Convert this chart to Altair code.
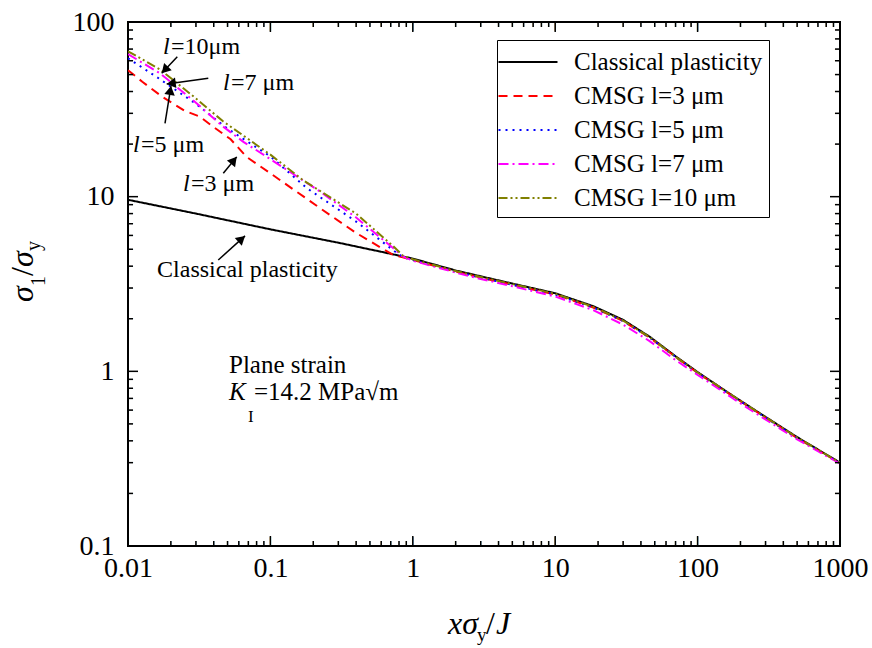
import math
import altair as alt
import pandas as pd

# ---------------- data ----------------
series_names = ["Classical plasticity", "CMSG l=3 μm", "CMSG l=5 μm", "CMSG l=7 μm", "CMSG l=10 μm"]
series_colors = ["#000000", "#ff0000", "#0000ff", "#ff00ff", "#808000"]
series_dashes = [[1, 0], [9, 6], [2, 5], [10, 4, 2, 4], [9, 3, 2, 3, 2, 3]]

x_classical = [0.01, 0.03, 0.1, 0.3, 0.59, 1, 2, 3, 5, 10, 18.5, 30, 46, 70, 100, 170, 274, 500, 1000]
y_classical = [9.6, 8.0, 6.5, 5.45, 4.85, 4.42, 3.78, 3.5, 3.18, 2.8, 2.36, 1.97, 1.58, 1.22, 0.99, 0.74, 0.575, 0.42, 0.30]

x_l3 = [0.01, 0.0126, 0.0174, 0.025, 0.032, 0.04, 0.0526, 0.068, 0.1, 0.223, 0.4, 0.73, 0.85, 1, 2, 3, 5, 10, 18.5, 30, 46, 70, 100, 170, 274, 500, 1000]
y_l3 = [53, 45.5, 37.3, 31, 28.7, 25, 21.3, 16.9, 13.6, 8.6, 6.2, 4.63, 4.5, 4.34, 3.72, 3.44, 3.13, 2.75, 2.32, 1.94, 1.56, 1.21, 0.98, 0.735, 0.57, 0.415, 0.298]

x_l5 = [0.01, 0.0168, 0.03, 0.05, 0.1, 0.18, 0.4, 0.75, 0.85, 1, 2, 3, 5, 10, 18.5, 30, 46, 70, 100, 170, 274, 500, 1000]
y_l5 = [62, 47, 34, 24.5, 17, 11.2, 7.2, 4.85, 4.52, 4.34, 3.72, 3.44, 3.13, 2.75, 2.32, 1.94, 1.56, 1.21, 0.98, 0.735, 0.57, 0.415, 0.298]

x_l7 = [0.01, 0.0168, 0.03, 0.0465, 0.0646, 0.1, 0.223, 0.4, 0.73, 0.85, 1, 2, 3, 5, 10, 18.5, 30, 46, 70, 100, 170, 274, 500, 1000]
y_l7 = [65.5, 50.8, 34.5, 25.2, 20.6, 16.4, 10.7, 7.6, 5.06, 4.55, 4.3, 3.68, 3.38, 3.07, 2.68, 2.24, 1.85, 1.49, 1.16, 0.955, 0.715, 0.555, 0.408, 0.296]

x_l10 = [0.01, 0.0168, 0.03, 0.0465, 0.1, 0.17, 0.4, 0.73, 0.85, 1, 2, 3, 5, 10, 18.5, 30, 46, 70, 100, 170, 274, 500, 1000]
y_l10 = [68, 53.5, 36.5, 27, 17.4, 12.4, 8.0, 5.2, 4.6, 4.38, 3.75, 3.47, 3.16, 2.78, 2.34, 1.95, 1.57, 1.21, 0.985, 0.74, 0.572, 0.418, 0.30]

x_major = [0.01, 0.1, 1, 10, 100, 1000]
y_major = [0.1, 1, 10, 100]

# annotation texts (anchor in data units)
ann_it_text = ["l", "l", "l", "l", "K"]
ann_it_x = [0.0176, 0.0464, 0.01084, 0.0243, 0.0512]
ann_it_y = [71.9, 44.8, 19.8, 11.8, 0.762]
ann_it_size = [24, 24, 24, 24, 25]

ann_up_text = ["=10μm", "=7 μm", "=5 μm", "=3 μm", "Classical plasticity", "Plane strain", "I", "=14.2 MPa√m"]
ann_up_x = [0.02004, 0.05289, 0.01234, 0.02770, 0.016, 0.0512, 0.06963, 0.0767]
ann_up_y = [71.9, 44.8, 19.8, 11.8, 3.80, 1.088, 0.548, 0.762]
ann_up_size = [24, 24, 24, 24, 24, 25, 17, 25]

arrow_tail_x = [0.02219, 0.03664, 0.01819, 0.04669, 0.04305]
arrow_tail_y = [63.3, 47.6, 26.3, 13.6, 4.34]
arrow_head_x = [0.01725, 0.01870, 0.02004, 0.05799, 0.06632]
arrow_head_y = [50.9, 44.2, 43.0, 16.9, 5.96]

W, H = 712, 524
FONT = "Liberation Serif"
MAJOR_LEN, MINOR_LEN = 10, 5
X_LO, X_HI = 0.01, 1000
Y_LO, Y_HI = 0.1, 100

# ---------------- tables ----------------
rows = []
for name, xs, ys in zip(series_names,
                         [x_classical, x_l3, x_l5, x_l7, x_l10],
                         [y_classical, y_l3, y_l5, y_l7, y_l10]):
    for i, (a, b) in enumerate(zip(xs, ys)):
        rows.append({"series": name, "x": a, "y": b, "i": i})
df = pd.DataFrame(rows)

x_minor = [m * 10 ** e for e in range(-2, 3) for m in range(2, 10)]
y_minor = [m * 10 ** e for e in range(-1, 2) for m in range(2, 10)]

px_per_dec_x = W / math.log10(X_HI / X_LO)
px_per_dec_y = H / math.log10(Y_HI / Y_LO)

# inward ticks on all four sides, both ends in data units (lengths given in pixels)
tick_rows = []
for vals, ln in ((x_major, MAJOR_LEN), (x_minor, MINOR_LEN)):
    f = 10 ** (ln / px_per_dec_y)
    for v in vals:
        tick_rows.append({"x1": v, "x2": v, "y1": Y_LO, "y2": Y_LO * f})
        tick_rows.append({"x1": v, "x2": v, "y1": Y_HI, "y2": Y_HI / f})
for vals, ln in ((y_major, MAJOR_LEN), (y_minor, MINOR_LEN)):
    f = 10 ** (ln / px_per_dec_x)
    for v in vals:
        tick_rows.append({"x1": X_LO, "x2": X_LO * f, "y1": v, "y2": v})
        tick_rows.append({"x1": X_HI, "x2": X_HI / f, "y1": v, "y2": v})
tick_df = pd.DataFrame(tick_rows)

# the same ticks drawn as bar glyphs (text marks), rotated to point into the plot
glyph_rows = []
for vals, fs in ((x_major, 11), (x_minor, 6)):
    for v in vals:
        glyph_rows.append({"gx": v, "gy": Y_LO, "ga": 0, "fs": fs})
        glyph_rows.append({"gx": v, "gy": Y_HI, "ga": 180, "fs": fs})
for vals, fs in ((y_major, 11), (y_minor, 6)):
    for v in vals:
        glyph_rows.append({"gx": X_LO, "gy": v, "ga": 90, "fs": fs})
        glyph_rows.append({"gx": X_HI, "gy": v, "ga": 270, "fs": fs})
glyph_df = pd.DataFrame(glyph_rows)

xscale = alt.Scale(type="log", domain=[X_LO, X_HI], nice=False)
yscale = alt.Scale(type="log", domain=[Y_LO, Y_HI], nice=False)

# the same axis objects are given to every layer so that they merge cleanly
AX = alt.Axis(orient="bottom", values=x_major, format="~g", ticks=False,
              domain=False, grid=False, labelFont=FONT,
              labelFontSize=28, labelColor="black", labelPadding=8,
              title=None, labelFlush=False, labelOverlap=False)
AY = alt.Axis(orient="left", values=y_major, format="~g", ticks=False,
              domain=False, grid=False, labelFont=FONT,
              labelFontSize=28, labelColor="black", labelPadding=14,
              title=None, labelFlush=False, labelOverlap=False)

legend = alt.Legend(title=None, orient="none", legendX=369, legendY=18,
                    symbolType="M-2,0L2,0", symbolSize=870, symbolStrokeWidth=2,
                    symbolOffset=9,
                    labelFont=FONT, labelFontSize=25, labelColor="black",
                    labelLimit=400, labelOffset=30, padding=6, rowPadding=5,
                    strokeColor="black", fillColor="white")

lines = alt.Chart(df).mark_line(strokeWidth=2, clip=True).encode(
    x=alt.X("x:Q", scale=xscale, axis=AX),
    y=alt.Y("y:Q", scale=yscale, axis=AY),
    color=alt.Color("series:N", scale=alt.Scale(domain=series_names, range=series_colors), legend=legend),
    strokeDash=alt.StrokeDash("series:N", scale=alt.Scale(domain=series_names, range=series_dashes), legend=legend),
    order="i:Q",
)

ticks = alt.Chart(tick_df).mark_rule(color="black", strokeWidth=1.5).encode(
    x=alt.X("x1:Q", scale=xscale, axis=AX),
    y=alt.Y("y1:Q", scale=yscale, axis=AY),
    x2="x2:Q", y2="y2:Q",
)
tick_glyphs = alt.Chart(glyph_df).mark_text(text="|", font=FONT, align="center",
                                            baseline="bottom", color="black").encode(
    x=alt.X("gx:Q", scale=xscale, axis=AX),
    y=alt.Y("gy:Q", scale=yscale, axis=AY),
    angle=alt.Angle("ga:Q", scale=None),
    size=alt.Size("fs:Q", scale=None),
)

# arrows
arrows = []
for x1, y1, x2, y2 in zip(arrow_tail_x, arrow_tail_y, arrow_head_x, arrow_head_y):
    dx = (math.log10(x2) - math.log10(x1)) * px_per_dec_x
    dy = -(math.log10(y2) - math.log10(y1)) * px_per_dec_y
    ln = math.hypot(dx, dy)
    ux, uy = dx / ln, dy / ln
    back = 4.5
    xc = 10 ** (math.log10(x2) - back * ux / px_per_dec_x)
    yc = 10 ** (math.log10(y2) + back * uy / px_per_dec_y)
    ang = math.degrees(math.atan2(dx, -dy)) % 360
    arrows.append({"x1": x1, "y1": y1, "x2": x2, "y2": y2, "xc": xc, "yc": yc, "ang": ang})
arr_df = pd.DataFrame(arrows)

rules = alt.Chart(arr_df).mark_rule(color="black", strokeWidth=1.5).encode(
    x=alt.X("x1:Q", scale=xscale, axis=AX),
    y=alt.Y("y1:Q", scale=yscale, axis=AY),
    x2="x2:Q", y2="y2:Q",
)
heads = alt.Chart(arr_df).mark_point(shape="triangle-up", filled=True, color="black", size=110, opacity=1).encode(
    x=alt.X("xc:Q", scale=xscale, axis=AX),
    y=alt.Y("yc:Q", scale=yscale, axis=AY),
    angle=alt.Angle("ang:Q", scale=None),
)

ann_it = alt.Chart(pd.DataFrame({"t": ann_it_text, "x": ann_it_x, "y": ann_it_y, "s": ann_it_size})).mark_text(
    font=FONT, fontStyle="italic", align="left", baseline="middle", color="black").encode(
    x=alt.X("x:Q", scale=xscale, axis=AX),
    y=alt.Y("y:Q", scale=yscale, axis=AY),
    text="t:N", size=alt.Size("s:Q", scale=None))
ann_up = alt.Chart(pd.DataFrame({"t": ann_up_text, "x": ann_up_x, "y": ann_up_y, "s": ann_up_size})).mark_text(
    font=FONT, align="left", baseline="middle", color="black").encode(
    x=alt.X("x:Q", scale=xscale, axis=AX),
    y=alt.Y("y:Q", scale=yscale, axis=AY),
    text="t:N", size=alt.Size("s:Q", scale=None))

# axis titles (composed pieces for sub-scripts), positions in pixels from plot origin
title_it = pd.DataFrame({
    "t": ["xσ", "J", "σ", "σ"],
    "px": [320, 368, -95, -95],
    "py": [612, 612, 280, 245],
    "s": [32, 32, 32, 32],
    "a": [0, 0, 270, 270],
})
title_up = pd.DataFrame({
    "t": ["y", "/", "1", "/", "y"],
    "px": [349, 358, -83, -95, -88],
    "py": [619, 612, 264, 254, 229],
    "s": [19, 32, 20, 32, 20],
    "a": [0, 0, 270, 270, 270],
})
t_it = alt.Chart(title_it).mark_text(font=FONT, fontStyle="italic", align="left",
                                     baseline="alphabetic", color="black").encode(
    x=alt.X("px:Q", scale=None), y=alt.Y("py:Q", scale=None),
    text="t:N", size=alt.Size("s:Q", scale=None), angle=alt.Angle("a:Q", scale=None))
t_up = alt.Chart(title_up).mark_text(font=FONT, align="left",
                                     baseline="alphabetic", color="black").encode(
    x=alt.X("px:Q", scale=None), y=alt.Y("py:Q", scale=None),
    text="t:N", size=alt.Size("s:Q", scale=None), angle=alt.Angle("a:Q", scale=None))

chart = alt.layer(lines, ticks, tick_glyphs, rules, heads, ann_it, ann_up, t_it, t_up).properties(
    width=W, height=H,
    autosize=alt.AutoSizeParams(type="none"),
    padding={"left": 128, "top": 22, "right": 32, "bottom": 102},
    background="white",
).configure_view(stroke="black", strokeWidth=2)

chart.save("out.html", embed_options={"renderer": "svg", "actions": False})
